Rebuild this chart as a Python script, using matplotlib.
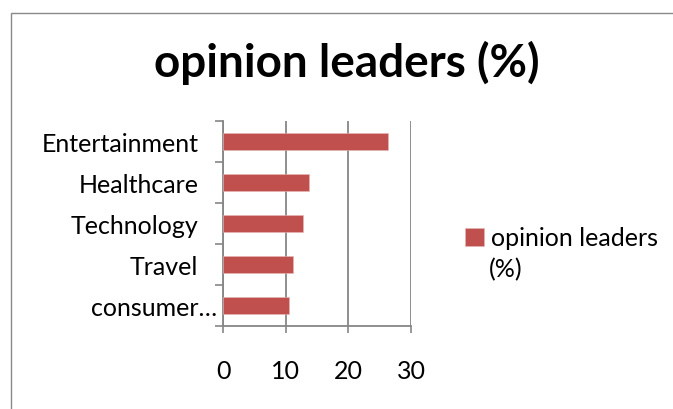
import matplotlib.pyplot as plt
import numpy as np
from matplotlib.patches import Rectangle
import matplotlib.transforms as mtransforms

# data, listed bottom to top like the excel sheet
categories = ["consumer…", "Travel", "Technology", "Healthcare", "Entertainment"]
values = [10.5, 11.2, 12.7, 13.7, 26.3]
series_name = "opinion leaders (%)"
x_ticks = [0, 10, 20, 30]

plt.rcParams['font.family'] = ['Lato', 'DejaVu Sans']

fig = plt.figure(figsize=(6.73, 4.10), dpi=100)
ax = fig.add_axes([0.3318, 0.2032, 0.6107 - 0.3318, 0.7017 - 0.2032])

pos = np.arange(len(categories))
ax.barh(pos, values, height=0.41, color='#C0504D', edgecolor='#E6B9B8', linewidth=0.4,
        label="opinion leaders", zorder=3)

ax.set_xlim(0, 30)
ax.set_ylim(-0.5, len(categories) - 0.5)
ax.set_xticks(x_ticks)
ax.set_xticklabels([str(t) for t in x_ticks], fontsize=18)
ax.set_yticks(pos)
ax.set_yticklabels(categories, fontsize=18)
ax.set_yticks(np.arange(-0.5, len(categories), 1), minor=True)

ax.tick_params(axis='y', which='major', length=0, pad=18)
ax.tick_params(axis='y', which='minor', length=6, width=1.2, color='#868686', direction='out')
ax.tick_params(axis='x', length=5, width=1.2, color='#868686', direction='out', pad=19)

# the clipped label sits closer to the axis
lab = ax.get_yticklabels()[0]
lab.set_transform(lab.get_transform() + mtransforms.ScaledTranslation(19 / 100, 0, fig.dpi_scale_trans))

ax.grid(axis='x', color='#868686', linewidth=1.3, zorder=0)
ax.spines['top'].set_visible(False)
ax.spines['right'].set_visible(False)
for s in ['left', 'bottom']:
    ax.spines[s].set_color('#868686')
    ax.spines[s].set_linewidth(1.3)

fig.text(0.516, 0.847, series_name, fontsize=33, fontweight='bold', ha='center', va='center')

# legend: square beside the first line, "(%)" wraps below like excel does
leg = fig.legend(loc='center left', bbox_to_anchor=(465 / 673, 1 - 239 / 410), frameon=False, fontsize=18,
                 handlelength=0.75, handleheight=0.75, handletextpad=0.3, borderpad=0, borderaxespad=0)
fig.text(489 / 673, 1 - 270 / 410, "(%)", fontsize=18, ha='left', va='center')

# chart area border (runs past the right and bottom edges)
fig.patches.append(Rectangle((10.5 / 673, -0.1), 1.2, 1.1 - 13.5 / 410, transform=fig.transFigure,
                             fill=False, edgecolor='#898989', linewidth=1))

fig.savefig("out.png", dpi=100)
